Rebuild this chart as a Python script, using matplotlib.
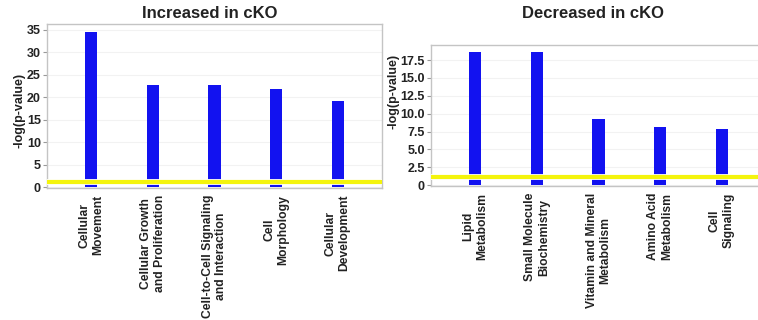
import matplotlib
matplotlib.use("Agg")
import matplotlib.pyplot as plt
import numpy as np

plt.rcParams['font.family'] = ['Liberation Sans', 'DejaVu Sans']
plt.rcParams['font.weight'] = 'bold'

# -log(p-value) per category, IPA style
up_labels = ['Cellular\nMovement', 'Cellular Growth\nand Proliferation',
             'Cell-to-Cell Signaling\nand Interaction', 'Cell\nMorphology',
             'Cellular\nDevelopment']
up_values = [34.6, 22.7, 22.7, 21.8, 19.2]
up_yticks = [0, 5, 10, 15, 20, 25, 30, 35]
up_yticklabels = ['0', '5', '10', '15', '20', '25', '30', '35']

down_labels = ['Lipid\nMetabolism', 'Small Molecule\nBiochemistry',
               'Vitamin and Mineral\nMetabolism', 'Amino Acid\nMetabolism',
               'Cell\nSignaling']
down_values = [18.6, 18.6, 9.3, 8.1, 7.8]
down_yticks = [0, 2.5, 5.0, 7.5, 10.0, 12.5, 15.0, 17.5]
down_yticklabels = ['0', '2.5', '5.0', '7.5', '10.0', '12.5', '15.0', '17.5']

threshold = 1.2  # significance cut-off line

BAR = '#1212f0'
YEL = '#f4f40c'
SPINE = '#c4c4c4'
TXT = '#222222'

fig = plt.figure(figsize=(7.58, 3.2), dpi=100)


def panel(rect, labels, values, yticks, yticklabels, ylim, label_y):
    ax = fig.add_axes(rect)
    x = np.arange(len(values))
    ax.bar(x, values, width=0.2, color=BAR, zorder=2)
    # threshold line with a thin white halo
    ax.axhline(threshold, color='white', lw=4.2, zorder=3)
    ax.axhline(threshold, color=YEL, lw=3, zorder=4)
    ax.set_xlim(-0.72, len(values) - 1 + 0.72)
    ax.set_ylim(*ylim)
    ax.set_yticks(yticks)
    ax.set_yticklabels(yticklabels, fontsize=9, fontweight='bold', color=TXT)
    ax.set_xticks(x)
    ax.set_xticklabels(labels, rotation=90, fontsize=8.7, fontweight='bold',
                       color=TXT, ha='center', va='top', multialignment='center')
    ax.tick_params(axis='x', length=0, pad=5)
    ax.tick_params(axis='y', length=3, width=0.8, color='#999999', pad=1.5)
    ax.yaxis.grid(True, color='#f2f2f2', lw=0.8, zorder=0)
    ax.set_axisbelow(True)
    for s in ax.spines.values():
        s.set_color(SPINE)
        s.set_linewidth(1)
    ax.set_ylabel('-log(p-value)', fontsize=9, fontweight='bold', color=TXT)
    ax.yaxis.set_label_coords(*label_y)
    return ax


ax1 = panel([47 / 758, 1 - 188 / 320, 335 / 758, 164 / 320],
            up_labels, up_values, up_yticks, up_yticklabels,
            (-0.22, 36.3), (-0.063, 0.47))
ax2 = panel([431 / 758, 1 - 186 / 320, 335 / 758, 141 / 320],
            down_labels, down_values, down_yticks, down_yticklabels,
            (-0.1, 19.6), (-0.095, 0.67))

fig.text(210 / 758, 1 - 14 / 320, 'Increased in cKO', fontsize=12,
         fontweight='bold', color=TXT, ha='center', va='center')
fig.text(593 / 758, 1 - 14 / 320, 'Decreased in cKO', fontsize=12,
         fontweight='bold', color=TXT, ha='center', va='center')

fig.savefig('out.png', dpi=100)
